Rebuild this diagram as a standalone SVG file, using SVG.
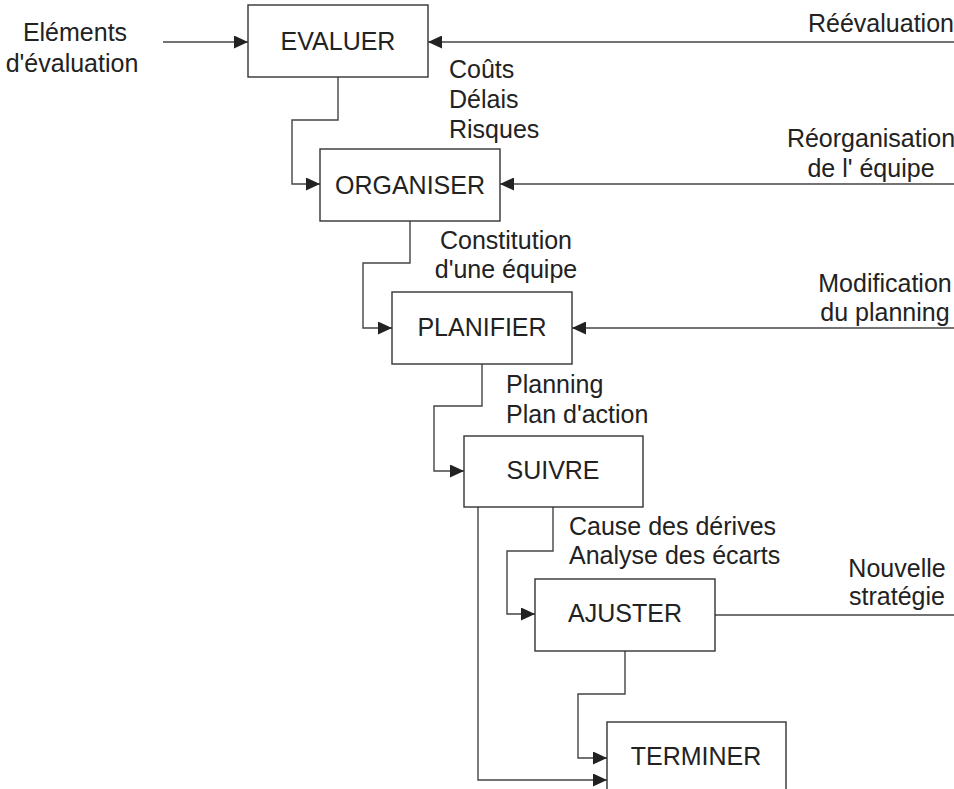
<svg xmlns="http://www.w3.org/2000/svg" width="954" height="789" viewBox="0 0 954 789">
  <style>
    text { font-family: "Liberation Sans", Arial, sans-serif; font-size: 25px; fill: #222; }
    .box { fill: #fff; stroke: #333; stroke-width: 1.4; }
    .mid { text-anchor: middle; }
    .wire { fill: none; stroke: #444; stroke-width: 1.4; }
  </style>
  <defs>
    <marker id="arr" viewBox="0 0 14 13" refX="14" refY="6.5" markerWidth="14" markerHeight="13" markerUnits="userSpaceOnUse" orient="auto">
      <path d="M0,0 L14,6.5 L0,13 Z" fill="#222"/>
    </marker>
  </defs>
  <rect width="954" height="789" fill="#fff"/>

  <!-- connectors -->
  <g id="connectors">
    <path class="wire" d="M163,42 H248" marker-end="url(#arr)"/>
    <path class="wire" d="M954,42 H428" marker-end="url(#arr)"/>
    <path class="wire" d="M338,77 V120 H292 V184 H320" marker-end="url(#arr)"/>
    <path class="wire" d="M954,184 H500" marker-end="url(#arr)"/>
    <path class="wire" d="M410,221 V263 H363 V328 H392" marker-end="url(#arr)"/>
    <path class="wire" d="M954,328 H572" marker-end="url(#arr)"/>
    <path class="wire" d="M482,364 V406 H434 V471 H464" marker-end="url(#arr)"/>
    <path class="wire" d="M553,507 V551 H507 V614 H535" marker-end="url(#arr)"/>
    <path class="wire" d="M478,507 V780 H607" marker-end="url(#arr)"/>
    <path class="wire" d="M715,615 H954"/>
    <path class="wire" d="M625,651 V694 H578 V758 H607" marker-end="url(#arr)"/>
  </g>

  <!-- connector labels -->
  <g id="labels">
    <text class="mid" x="75" y="41">Eléments</text>
    <text class="mid" x="72" y="72">d'évaluation</text>
    <text x="808" y="32">Réévaluation</text>
    <text x="449" y="78">Coûts</text>
    <text x="449" y="108">Délais</text>
    <text x="449" y="138">Risques</text>
    <text class="mid" x="871" y="147">Réorganisation</text>
    <text class="mid" x="871" y="177">de l' équipe</text>
    <text class="mid" x="506" y="249">Constitution</text>
    <text class="mid" x="506" y="278">d'une équipe</text>
    <text class="mid" x="885" y="292">Modification</text>
    <text class="mid" x="885" y="321">du planning</text>
    <text x="506" y="393">Planning</text>
    <text x="506" y="423">Plan d'action</text>
    <text x="569" y="535">Cause des dérives</text>
    <text x="569" y="564">Analyse des écarts</text>
    <text class="mid" x="897" y="577">Nouvelle</text>
    <text class="mid" x="897" y="605">stratégie</text>
  </g>

  <!-- process steps -->
  <g id="evaluer">
    <rect class="box" x="248" y="5" width="180" height="72"/>
    <text class="mid" x="338" y="50">EVALUER</text>
  </g>
  <g id="organiser">
    <rect class="box" x="320" y="149" width="180" height="72"/>
    <text class="mid" x="410" y="194">ORGANISER</text>
  </g>
  <g id="planifier">
    <rect class="box" x="392" y="292" width="180" height="72"/>
    <text class="mid" x="482" y="336">PLANIFIER</text>
  </g>
  <g id="suivre">
    <rect class="box" x="464" y="436" width="179" height="71"/>
    <text class="mid" x="553" y="479">SUIVRE</text>
  </g>
  <g id="ajuster">
    <rect class="box" x="535" y="579" width="180" height="72"/>
    <text class="mid" x="625" y="622">AJUSTER</text>
  </g>
  <g id="terminer">
    <rect class="box" x="607" y="722" width="179" height="80"/>
    <text class="mid" x="696" y="765">TERMINER</text>
  </g>
</svg>
